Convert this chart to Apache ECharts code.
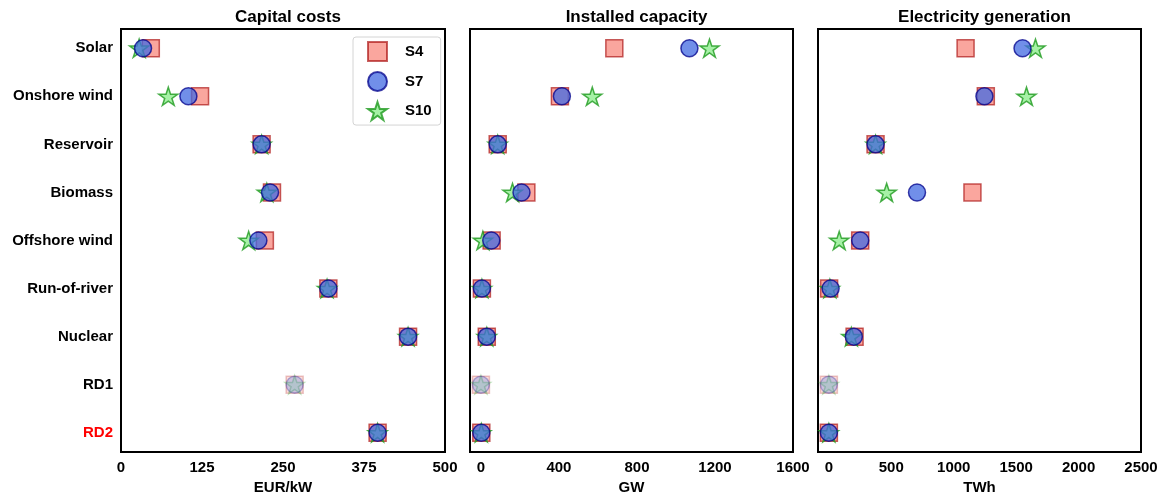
<!DOCTYPE html>
<html>
<head>
<meta charset="utf-8">
<script src="https://cdn.jsdelivr.net/npm/echarts@6/dist/echarts.min.js"></script>
<style>
  html, body { margin: 0; padding: 0; background: #fff; }
  #chart { width: 1168px; height: 495px; }
</style>
</head>
<body>
<div id="chart"></div>
<script>
// Technologies, top to bottom
const categories = ['Solar', 'Onshore wind', 'Reservoir', 'Biomass', 'Offshore wind', 'Run-of-river', 'Nuclear', 'RD1', 'RD2'];
const scenarios = ['S4', 'S7', 'S10'];

// Capital costs (EUR/kW)
const capS4  = [46, 122, 217, 233, 222, 320, 443, 268, 396];
const capS7  = [34, 104, 217, 230, 212, 320, 443, 268, 396];
const capS10 = [28, 73, 217, 225, 197, 318, 443, 268, 396];

// Installed capacity (GW)
const gwS4  = [684, 405, 86, 233, 55, 5, 30, 0, 2];
const gwS7  = [1069, 415, 86, 208, 53, 5, 30, 0, 2];
const gwS10 = [1172, 571, 86, 162, 10, 5, 30, 0, 2];

// Electricity generation (TWh)
const twhS4  = [1095, 1257, 374, 1150, 251, 2, 206, 0, 0];
const twhS7  = [1551, 1246, 374, 706, 251, 14, 200, 0, 0];
const twhS10 = [1655, 1583, 374, 463, 83, 8, 180, 0, 0];

// Panel titles, axis names and tick labels
const panelTitles = ['Capital costs', 'Installed capacity', 'Electricity generation'];
const axisNames = ['EUR/kW', 'GW', 'TWh'];
const capTicks = [0, 125, 250, 375, 500];
const gwTicks = [0, 400, 800, 1200, 1600];
const twhTicks = [0, 500, 1000, 1500, 2000, 2500];

const panels = [
  { values: [capS4, capS7, capS10], ticks: capTicks, min: 0, max: 500 },
  { values: [gwS4, gwS7, gwS10], ticks: gwTicks, min: -56, max: 1600 },
  { values: [twhS4, twhS7, twhS10], ticks: twhTicks, min: -87, max: 2500 }
];

const FONT = '"Liberation Sans", Arial, sans-serif';
const STAR = 'path://M95.1,0L117.55,69.1L190.2,69.1L131.43,111.8L153.9,180.9L95.1,138.2L36.3,180.9L58.77,111.8L0,69.1L72.65,69.1Z';

const markerStyles = {
  S4:  { symbol: 'rect',   size: 17, color: '#f8766a', border: '#a80a0a', opacity: 0.65, z: 2 },
  S7:  { symbol: 'circle', size: 17, color: '#4169e1', border: '#00008b', opacity: 0.75, z: 4 },
  S10: { symbol: STAR,     size: 19, color: '#90ee90', border: '#1e9a1e', opacity: 0.8,  z: 3 }
};
const fadedCategory = 'RD1';
const highlightCategory = 'RD2';

const gridLefts = [121, 470, 818];
const gridWidths = [324, 323, 323];

const grid = [], xAxis = [], yAxis = [], series = [], title = [];

panels.forEach((p, gi) => {
  grid.push({
    left: gridLefts[gi], top: 29, width: gridWidths[gi], height: 423,
    show: true, borderColor: '#000', borderWidth: 2,
    containLabel: false, outerBoundsMode: 'none'
  });
  title.push({
    text: panelTitles[gi],
    left: gridLefts[gi] + gridWidths[gi] / 2, top: 4, textAlign: 'center',
    textStyle: { fontFamily: FONT, fontWeight: 'bold', fontSize: 17, color: '#000' }
  });
  xAxis.push({
    type: 'value', gridIndex: gi, min: p.min, max: p.max,
    name: axisNames[gi], nameLocation: 'middle', nameGap: 23,
    nameTextStyle: { fontFamily: FONT, fontWeight: 'bold', fontSize: 15, color: '#000' },
    axisLine: { show: false }, axisTick: { show: false }, splitLine: { show: false },
    axisLabel: {
      customValues: p.ticks, margin: 8, formatter: v => String(v),
      fontFamily: FONT, fontWeight: 'bold', fontSize: 15, color: '#000'
    }
  });
  yAxis.push({
    type: 'value', gridIndex: gi, min: -0.4, max: 8.4, inverse: true,
    axisLine: { show: false }, axisTick: { show: false }, splitLine: { show: false },
    axisLabel: {
      show: gi === 0, customValues: categories.map((c, i) => i), margin: 8,
      fontFamily: FONT, fontWeight: 'bold', fontSize: 15, padding: [4, 0, 0, 0],
      formatter: v => categories[Math.round(v)],
      color: v => categories[Math.round(v)] === highlightCategory ? '#ff0000' : '#000'
    }
  });
  // draw order: squares, stars, then circles on top
  [0, 2, 1].forEach(si => {
    const name = scenarios[si];
    const m = markerStyles[name];
    series.push({
      type: 'scatter', name: name, xAxisIndex: gi, yAxisIndex: gi,
      symbol: m.symbol, symbolSize: m.size, symbolKeepAspect: true, z: m.z,
      itemStyle: { color: m.color, borderColor: m.border, borderWidth: 1.5, opacity: m.opacity },
      emphasis: { disabled: true },
      data: p.values[si].map((v, i) => {
        const item = { value: [v, i] };
        if (categories[i] === fadedCategory) item.itemStyle = { opacity: m.opacity * 0.35 };
        return item;
      })
    });
  });
});

const chart = echarts.init(document.getElementById('chart'), null, { renderer: 'canvas' });
chart.setOption({
  animation: false,
  backgroundColor: '#fff',
  title: title,
  legend: {
    data: scenarios, orient: 'vertical', left: 353, top: 37,
    itemWidth: 19, itemHeight: 19, itemGap: 9,
    padding: [4, 9, 4, 14],
    borderColor: '#d4d4d4', borderWidth: 1, borderRadius: 3,
    selectedMode: false,
    textStyle: { fontFamily: FONT, fontWeight: 'bold', fontSize: 15, color: '#000', padding: [0, 0, 0, 13] }
  },
  grid: grid, xAxis: xAxis, yAxis: yAxis, series: series
});
</script>
</body>
</html>
